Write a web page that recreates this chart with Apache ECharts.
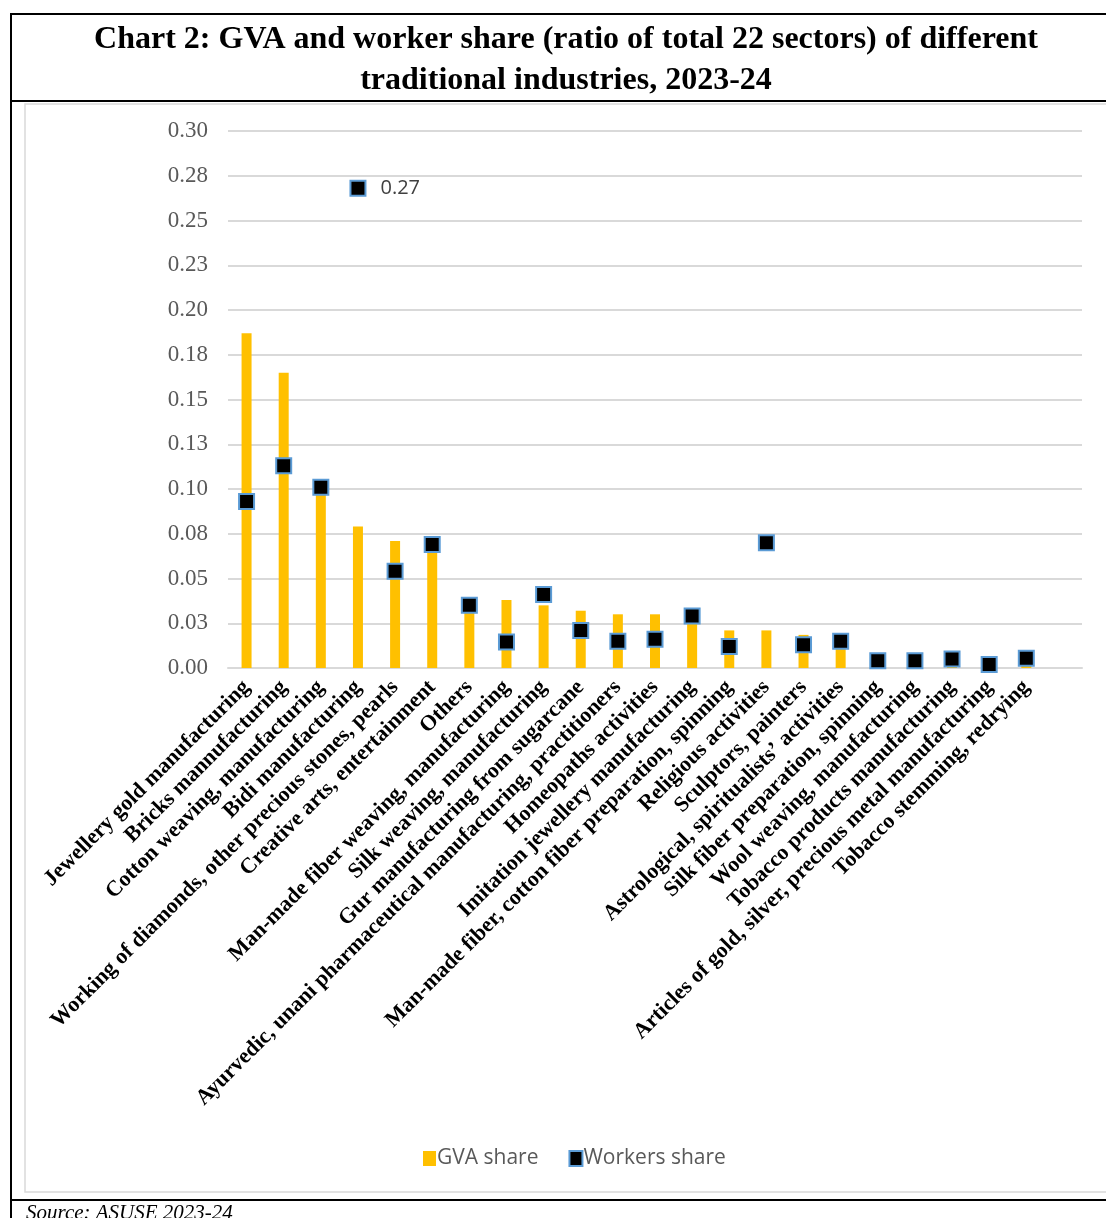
<!DOCTYPE html>
<html>
<head>
<meta charset="utf-8">
<script src="https://cdn.jsdelivr.net/npm/echarts@6/dist/echarts.min.js"></script>
<style>
  html, body { margin: 0; padding: 0; background: #fff; }
  #chart { width: 1106px; height: 1218px; }
</style>
</head>
<body>
<div id="chart"></div>
<script>
// categories (last one is an empty slot, the plot area runs one column past the data)
var categories = [
    'Jewellery gold manufacturing',
    'Bricks mannufacturing',
    'Cotton weaving, manufacturing',
    'Bidi manufacturing',
    'Working of diamonds, other precious stones, pearls',
    'Creative arts, entertainment',
    'Others',
    'Man-made fiber weaving, manufacturing',
    'Silk weaving, manufacturing',
    'Gur manufacturing from sugarcane',
    'Ayurvedic, unani pharmaceutical manufacturing, practitioners',
    'Homeopaths activities',
    'Imitation jewellery manufacturing',
    'Man-made fiber, cotton fiber preparation, spinning',
    'Religious activities',
    'Sculptors, painters',
    'Astrological, spiritualists\u2019 activities',
    'Silk fiber preparation, spinning',
    'Wool weaving, manufacturing',
    'Tobacco products manufacturing',
    'Articles of gold, silver, precious metal manufacturing',
    'Tobacco stemming, redrying',
    ''
];
var gvaShare = [0.187, 0.165, 0.098, 0.079, 0.071, 0.066, 0.033, 0.038, 0.035, 0.032, 0.030,
    0.030, 0.027, 0.021, 0.021, 0.0185, 0.013, 0.003, 0.002, 0.002, 0.001, 0.002, null];
var workersShare = [0.093, 0.113, 0.101, 0.268, 0.054, 0.069, 0.035, 0.0145, 0.041, 0.021, 0.015,
    0.016, 0.029, 0.012, 0.070, 0.013, 0.015, 0.004, 0.004, 0.005, 0.002, 0.0055, null];
var yTickLabels = ['0.00', '0.03', '0.05', '0.08', '0.10', '0.13', '0.15', '0.18', '0.20', '0.23', '0.25', '0.28', '0.30'];

var chart = echarts.init(document.getElementById('chart'));

var workersData = workersShare.map(function (v, i) {
    if (i === 3) {
        return {value: v, label: {show: true}};
    }
    return v;
});

var option = {
    animation: false,
    title: {
        text: 'Chart 2: GVA and worker share (ratio of total 22 sectors) of different\ntraditional industries, 2023-24',
        left: 561,
        top: 14,
        textAlign: 'center',
        textStyle: {
            fontFamily: 'Liberation Serif',
            fontWeight: 'bold',
            fontSize: 32,
            lineHeight: 41,
            color: '#000'
        }
    },
    graphic: [
        {type: 'line', shape: {x1: 10, y1: 14, x2: 1106, y2: 14}, style: {stroke: '#000', lineWidth: 2}},
        {type: 'line', shape: {x1: 11, y1: 14, x2: 11, y2: 1218}, style: {stroke: '#000', lineWidth: 2}},
        {type: 'line', shape: {x1: 10, y1: 101, x2: 1106, y2: 101}, style: {stroke: '#000', lineWidth: 2}},
        {type: 'line', shape: {x1: 10, y1: 1200, x2: 1106, y2: 1200}, style: {stroke: '#000', lineWidth: 2}},
        {type: 'rect', shape: {x: 25, y: 104, width: 1100, height: 1088},
            style: {fill: 'none', stroke: '#d9d9d9', lineWidth: 1.5}},
        {type: 'text', x: 26, y: 1203,
            style: {text: 'Source: ASUSE 2023-24', font: 'italic 21px "Liberation Serif"', fill: '#000', verticalAlign: 'top'}}
    ],
    legend: {
        left: 418,
        top: 1143,
        itemGap: 30,
        itemWidth: 13,
        itemHeight: 15,
        textStyle: {
            fontFamily: 'Open Sans',
            fontSize: 21,
            color: '#595959',
            padding: [0, 0, 0, -4]
        },
        data: [
            {name: 'GVA share', icon: 'rect'},
            {name: 'Workers share', icon: 'rect'}
        ]
    },
    grid: {
        left: 228,
        right: 24,
        top: 131,
        bottom: 550
    },
    xAxis: {
        type: 'category',
        data: categories,
        axisLine: {lineStyle: {color: '#d9d9d9', width: 2}},
        axisTick: {show: false},
        axisLabel: {
            interval: 0,
            rotate: 45,
            margin: 16,
            fontFamily: 'Liberation Serif',
            fontWeight: 'bold',
            fontSize: 22,
            color: '#000'
        }
    },
    yAxis: {
        type: 'value',
        min: 0,
        max: 0.3,
        interval: 0.025,
        axisLine: {show: false},
        axisTick: {show: false},
        splitLine: {lineStyle: {color: '#d9d9d9', width: 2}},
        axisLabel: {
            margin: 20,
            fontFamily: 'Liberation Serif',
            fontSize: 23,
            color: '#595959',
            formatter: function (v) {
                return yTickLabels[Math.round(v / 0.025)];
            }
        }
    },
    series: [
        {
            name: 'GVA share',
            type: 'bar',
            data: gvaShare,
            barWidth: 10,
            itemStyle: {color: '#FFC000'}
        },
        {
            name: 'Workers share',
            type: 'scatter',
            data: workersData,
            symbol: 'rect',
            symbolSize: 15,
            itemStyle: {color: '#000', borderColor: '#5B9BD5', borderWidth: 2, opacity: 1},
            label: {
                show: false,
                position: 'right',
                distance: 14,
                fontFamily: 'Open Sans',
                fontSize: 20,
                color: '#404040',
                formatter: function (p) {
                    return p.value.toFixed(2);
                }
            }
        }
    ]
};
chart.setOption(option);
</script>
</body>
</html>
